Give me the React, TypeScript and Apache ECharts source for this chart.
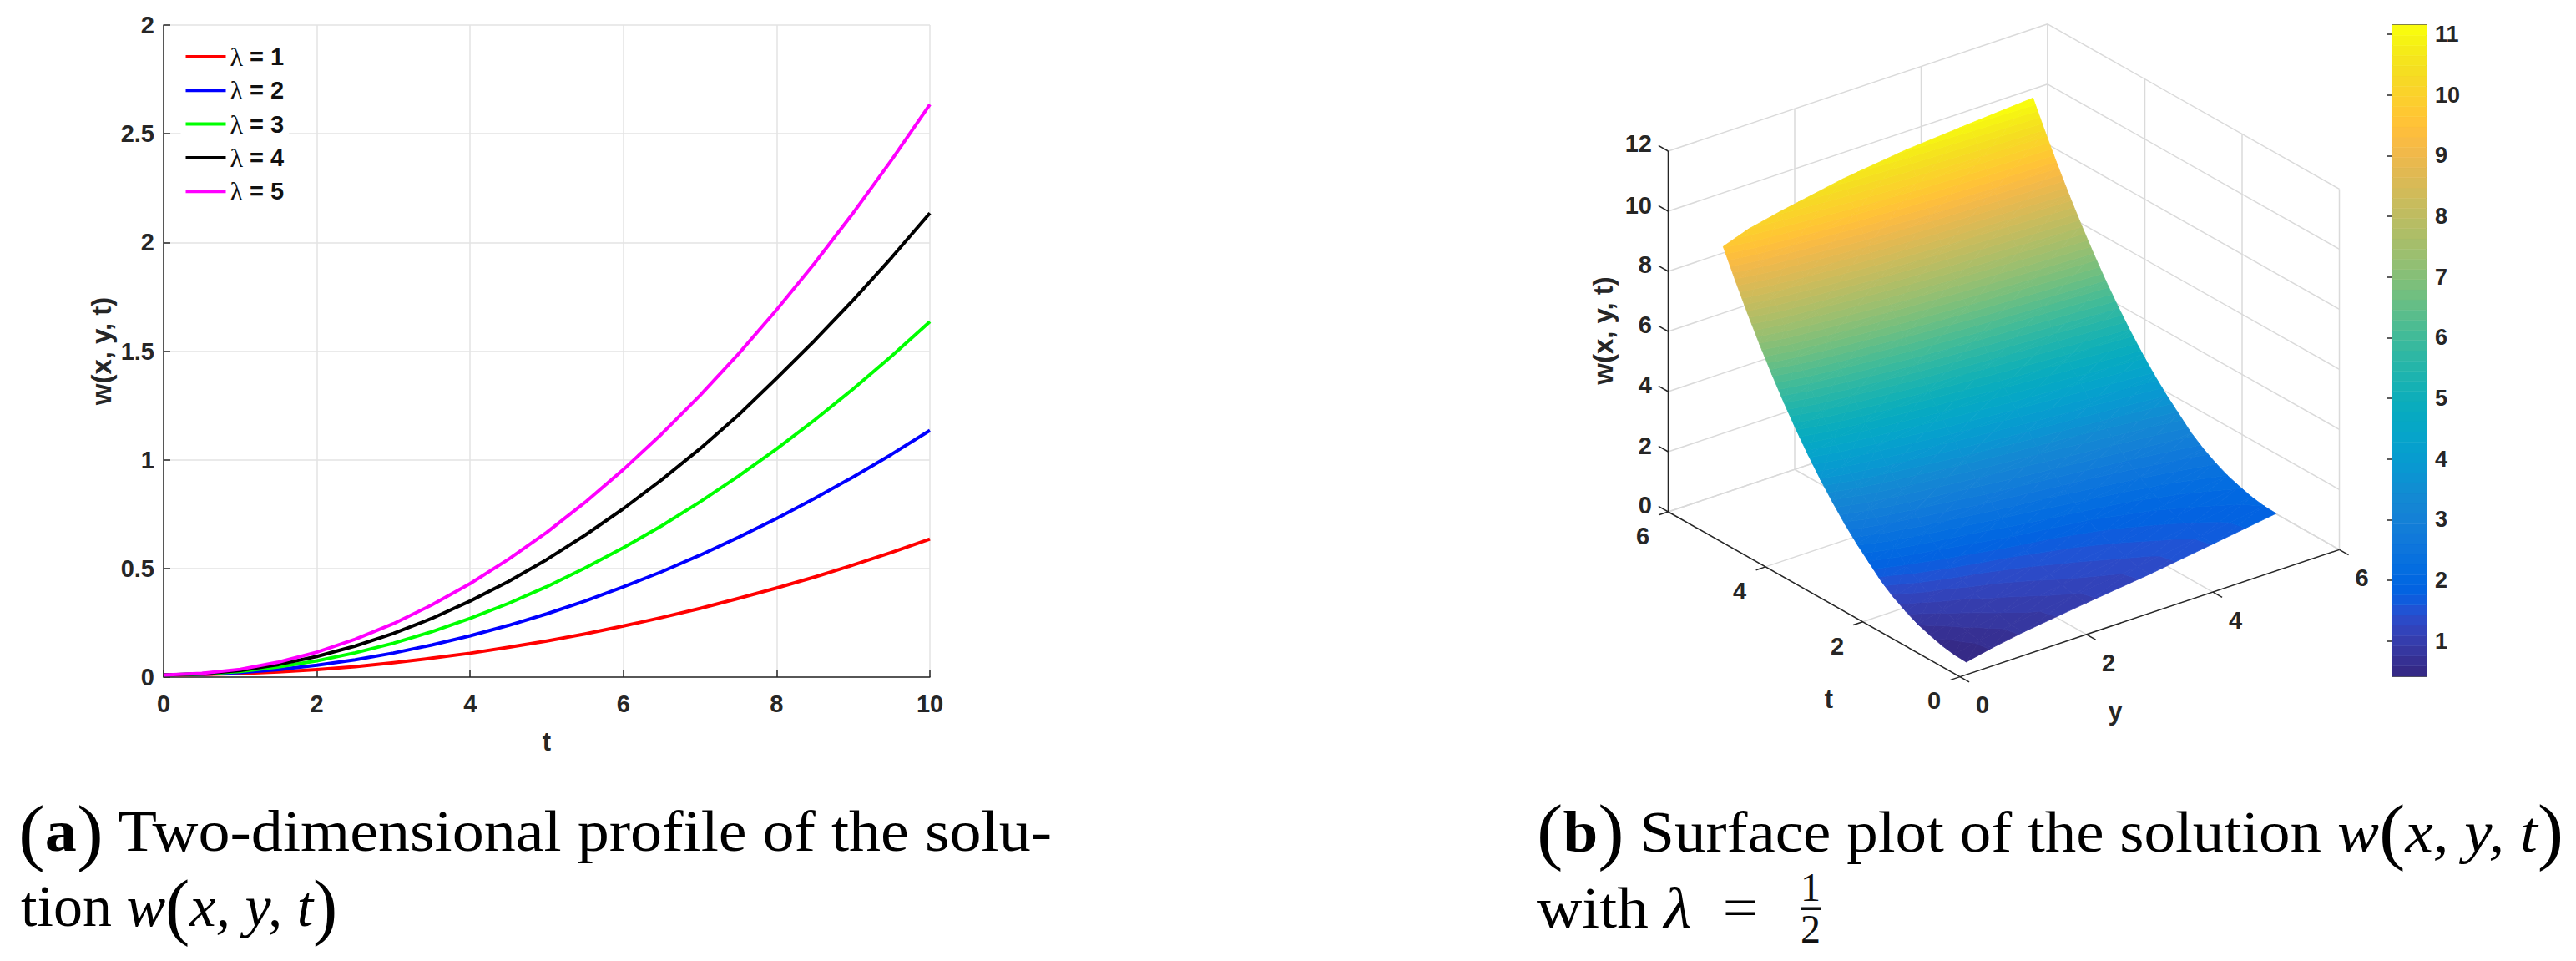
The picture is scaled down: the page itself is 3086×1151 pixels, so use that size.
import React, { useEffect, useRef } from "react";
import * as echarts from "echarts";

const tValues = [0, 0.5, 1, 1.5, 2, 2.5, 3, 3.5, 4, 4.5, 5, 5.5, 6, 6.5, 7, 7.5, 8, 8.5, 9, 9.5, 10];
const lambda1 = [0.01, 0.012, 0.016, 0.024, 0.035, 0.048, 0.066, 0.087, 0.11, 0.137, 0.166, 0.199, 0.235, 0.274, 0.316, 0.362, 0.41, 0.461, 0.516, 0.574, 0.635];
const lambda2 = [0.01, 0.013, 0.021, 0.035, 0.055, 0.08, 0.111, 0.148, 0.19, 0.238, 0.291, 0.35, 0.415, 0.485, 0.561, 0.643, 0.73, 0.823, 0.921, 1.025, 1.135];
const lambda3 = [0.01, 0.014, 0.026, 0.047, 0.075, 0.112, 0.156, 0.209, 0.27, 0.339, 0.416, 0.502, 0.595, 0.696, 0.806, 0.924, 1.05, 1.184, 1.326, 1.477, 1.635];
const lambda4 = [0.01, 0.015, 0.031, 0.058, 0.095, 0.143, 0.201, 0.27, 0.35, 0.44, 0.541, 0.653, 0.775, 0.908, 1.051, 1.205, 1.375, 1.55, 1.735, 1.93, 2.135];
const lambda5 = [0.01, 0.017, 0.036, 0.069, 0.115, 0.174, 0.246, 0.332, 0.43, 0.542, 0.666, 0.804, 0.955, 1.119, 1.296, 1.486, 1.69, 1.906, 2.136, 2.379, 2.635];
const lineNames = ["λ = 1", "λ = 2", "λ = 3", "λ = 4", "λ = 5"];
const lineColors = ["#ff0000", "#0000ff", "#00ff00", "#000000", "#ff00ff"];
const lineValues = [lambda1, lambda2, lambda3, lambda4, lambda5];
const leftYTickLabels = ["0", "0.5", "1", "1.5", "2", "2.5", "2"];

const surfaceY = [0.1, 0.5, 1, 2, 3, 4, 5];
const surfaceT = [0, 0.25, 0.5, 0.75, 1, 1.25, 1.5, 1.75, 2, 2.25, 2.5, 2.75, 3, 3.25, 3.5, 3.75, 4, 4.25, 4.5, 4.75, 5];
const surfaceW = [
  [0.42, 0.6, 0.78, 1.05, 1.3, 1.6, 1.91],
  [0.44, 0.62, 0.8, 1.07, 1.32, 1.62, 1.93],
  [0.51, 0.71, 0.9, 1.2, 1.45, 1.72, 2.0],
  [0.63, 0.83, 1.02, 1.32, 1.57, 1.84, 2.12],
  [0.77, 0.97, 1.16, 1.46, 1.71, 1.98, 2.26],
  [0.97, 1.17, 1.36, 1.66, 1.91, 2.18, 2.46],
  [1.21, 1.44, 1.64, 1.96, 2.21, 2.45, 2.7],
  [1.51, 1.74, 1.94, 2.26, 2.51, 2.75, 3.0],
  [1.9, 2.13, 2.33, 2.65, 2.9, 3.14, 3.39],
  [2.29, 2.52, 2.72, 3.04, 3.29, 3.53, 3.78],
  [2.73, 2.98, 3.19, 3.53, 3.79, 4.01, 4.22],
  [3.22, 3.47, 3.68, 4.02, 4.28, 4.5, 4.71],
  [3.75, 4.0, 4.21, 4.55, 4.81, 5.03, 5.24],
  [4.33, 4.58, 4.79, 5.13, 5.39, 5.61, 5.82],
  [4.95, 5.23, 5.45, 5.81, 6.07, 6.26, 6.44],
  [5.62, 5.9, 6.12, 6.48, 6.74, 6.93, 7.11],
  [6.34, 6.62, 6.84, 7.2, 7.46, 7.65, 7.83],
  [7.1, 7.38, 7.6, 7.96, 8.22, 8.41, 8.59],
  [7.91, 8.21, 8.44, 8.83, 9.09, 9.25, 9.4],
  [8.77, 9.07, 9.3, 9.69, 9.95, 10.11, 10.26],
  [9.67, 9.97, 10.2, 10.59, 10.85, 11.01, 11.16],
];
const zTicks = [0, 2, 4, 6, 8, 10, 12];
const floorTicks = [0, 2, 4, 6];
const colorbarTicks = [1, 2, 3, 4, 5, 6, 7, 8, 9, 10, 11];
const colorMin = 0.42;
const colorMax = 11.15;

const parula = [
  [0.2081, 0.1663, 0.5292], [0.2116, 0.1898, 0.5777], [0.2123, 0.2138, 0.627], [0.2081, 0.2386, 0.6771],
  [0.1959, 0.2645, 0.7279], [0.1707, 0.2919, 0.7792], [0.1253, 0.3242, 0.8303], [0.0591, 0.3598, 0.8683],
  [0.0117, 0.3875, 0.882], [0.006, 0.4086, 0.8828], [0.0165, 0.4266, 0.8786], [0.0329, 0.443, 0.872],
  [0.0498, 0.4586, 0.8641], [0.0629, 0.4737, 0.8554], [0.0723, 0.4887, 0.8467], [0.0779, 0.504, 0.8384],
  [0.0793, 0.52, 0.8312], [0.0749, 0.5375, 0.8263], [0.0641, 0.557, 0.824], [0.0488, 0.5772, 0.8228],
  [0.0343, 0.5966, 0.8199], [0.0265, 0.6137, 0.8135], [0.0239, 0.6287, 0.8038], [0.0231, 0.6418, 0.7913],
  [0.0228, 0.6535, 0.7768], [0.0267, 0.6642, 0.7607], [0.0384, 0.6743, 0.7436], [0.059, 0.6838, 0.7254],
  [0.0843, 0.6928, 0.7062], [0.1133, 0.7015, 0.6859], [0.1453, 0.7098, 0.6646], [0.1801, 0.7177, 0.6424],
  [0.2178, 0.725, 0.6193], [0.2586, 0.7317, 0.5954], [0.3022, 0.7376, 0.5712], [0.3482, 0.7424, 0.5473],
  [0.3953, 0.7459, 0.5244], [0.442, 0.7481, 0.5033], [0.4871, 0.7491, 0.484], [0.53, 0.7491, 0.4661],
  [0.5709, 0.7485, 0.4494], [0.6099, 0.7473, 0.4337], [0.6473, 0.7456, 0.4188], [0.6834, 0.7435, 0.4044],
  [0.7184, 0.7411, 0.3905], [0.7525, 0.7384, 0.3768], [0.7858, 0.7356, 0.3633], [0.8185, 0.7327, 0.3498],
  [0.8507, 0.7299, 0.336], [0.8824, 0.7274, 0.3217], [0.9139, 0.7258, 0.3063], [0.945, 0.7261, 0.2886],
  [0.9739, 0.7314, 0.2666], [0.9938, 0.7455, 0.2403], [0.999, 0.7653, 0.2164], [0.9955, 0.7861, 0.1967],
  [0.988, 0.8066, 0.1794], [0.9789, 0.8271, 0.1633], [0.9697, 0.8481, 0.1475], [0.9626, 0.8705, 0.1309],
  [0.9589, 0.8949, 0.1132], [0.9598, 0.9218, 0.0948], [0.9661, 0.9514, 0.0755], [0.9763, 0.9831, 0.0538],
].map(([r, g, b]) => `rgb(${Math.round(r * 255)},${Math.round(g * 255)},${Math.round(b * 255)})`);

const INK = "#262626";
const GRIDC = "#e3e3e3";
const BOXGRID = "#dadada";
const SANS = "'Liberation Sans', Arial, sans-serif";
const SERIF = "'Liberation Serif', serif";

// oblique view of the MATLAB box: (y, t, z) -> page position
const project = (y: number, t: number, z: number): [number, number] => [
  2348 + (y * 454.5) / 6 - (t * 349.5) / 6,
  810.6 - (y * 152.2) / 6 - (t * 197.6) / 6 - z * 36,
];

type V = { p: [number, number]; z: number };
const lerp = (a: V, b: V, lev: number): V => {
  const k = (lev - a.z) / (b.z - a.z);
  return { p: [a.p[0] + (b.p[0] - a.p[0]) * k, a.p[1] + (b.p[1] - a.p[1]) * k], z: lev };
};
const clip = (poly: V[], lev: number, above: boolean): V[] => {
  const out: V[] = [];
  const inside = (v: V) => (above ? v.z >= lev : v.z <= lev);
  for (let i = 0; i < poly.length; i++) {
    const a = poly[i];
    const b = poly[(i + 1) % poly.length];
    if (inside(a)) out.push(a);
    if (inside(a) !== inside(b)) out.push(lerp(a, b, lev));
  }
  return out;
};

function bandsOf(tri: V[], api: any) {
  const n = parula.length;
  const step = (colorMax - colorMin) / n;
  const zs = tri.map((v) => v.z);
  const i0 = Math.max(0, Math.floor((Math.min(...zs) - colorMin) / step));
  const i1 = Math.min(n - 1, Math.floor((Math.max(...zs) - colorMin) / step));
  const kids: any[] = [];
  for (let i = i0; i <= i1; i++) {
    let poly = clip(tri, i === 0 ? -1 : colorMin + i * step, true);
    if (poly.length) poly = clip(poly, i === n - 1 ? 99 : colorMin + (i + 1) * step, false);
    if (poly.length < 3) continue;
    kids.push({
      type: "polygon",
      shape: { points: poly.map((v) => api.coord(v.p)) },
      style: { fill: parula[i], stroke: parula[i], lineWidth: 0.8 },
    });
  }
  return kids;
}

const cells: number[][] = [];
for (let r = 0; r < surfaceT.length - 1; r++) for (let c = 0; c < surfaceY.length - 1; c++) cells.push([r, c]);

// frame segments in box coordinates
type Seg = { a: number[]; b: number[]; color: string; w: number };
const segs: Seg[] = [];
const gray = (a: number[], b: number[]) => segs.push({ a, b, color: BOXGRID, w: 1.5 });
const dark = (a: number[], b: number[]) => segs.push({ a, b, color: INK, w: 1.5 });
for (const v of floorTicks) {
  gray([v, 0, 0], [v, 6, 0]);
  gray([0, v, 0], [6, v, 0]);
  gray([v, 6, 0], [v, 6, 12]);
  gray([6, v, 0], [6, v, 12]);
}
for (const z of zTicks) {
  gray([0, 6, z], [6, 6, z]);
  gray([6, 0, z], [6, 6, z]);
}
dark([0, 6, 0], [0, 6, 12]);
dark([0, 0, 0], [0, 6, 0]);
dark([0, 0, 0], [6, 0, 0]);
for (const z of zTicks) dark([0, 6, z], [0, 6.2, z]);
for (const v of floorTicks) {
  dark([0, v, 0], [-0.15, v, 0]);
  dark([v, 0, 0], [v, -0.19, 0]);
}

type Lab = { text: string; x: number; y: number; align?: string; size?: number; rot?: number };
const boxLabels: Lab[] = [
  { text: "12", x: 1979, y: 172, align: "right" },
  { text: "10", x: 1979, y: 245.5, align: "right" },
  { text: "8", x: 1979, y: 317, align: "right" },
  { text: "6", x: 1979, y: 389, align: "right" },
  { text: "4", x: 1979, y: 461, align: "right" },
  { text: "2", x: 1979, y: 534, align: "right" },
  { text: "0", x: 1979, y: 604.5, align: "right" },
  { text: "0", x: 2317, y: 839 },
  { text: "2", x: 2201, y: 774 },
  { text: "4", x: 2084, y: 708 },
  { text: "6", x: 1968, y: 642 },
  { text: "0", x: 2375, y: 844 },
  { text: "2", x: 2526, y: 794 },
  { text: "4", x: 2678, y: 743 },
  { text: "6", x: 2829.5, y: 692 },
  { text: "t", x: 2191, y: 837, size: 31 },
  { text: "y", x: 2534, y: 851, size: 31 },
  { text: "w(x, y, t)", x: 1920.6, y: 396, size: 33, rot: Math.PI / 2 },
];

const captionA1 = "{p|(}{b|a}{p|)}{r| Two-dimensional profile of the solu-}";
const captionA2 = "{r|tion }{i|w}{p|(}{i|x, y, t}{p|)}";
const captionB1 = "{p|(}{b|b}{p|)}{r| Surface plot of the solution }{i|w}{p|(}{i|x, y, t}{p|)}";
const captionB2 = "{r|with }{i|λ}{r|  =}";

const capRich = {
  r: { fontFamily: SERIF, fontSize: 70, color: "#111" },
  b: { fontFamily: SERIF, fontSize: 70, fontWeight: "bold", color: "#111" },
  i: { fontFamily: SERIF, fontSize: 70, fontStyle: "italic", color: "#111" },
  p: { fontFamily: SERIF, fontSize: 88, color: "#111" },
};

export default function App() {
  const ref = useRef<HTMLDivElement>(null);
  useEffect(() => {
    document.body.style.margin = "0";
    const chart = echarts.init(ref.current!, undefined, { renderer: "svg" });
    const capText = (text: string, x: number, y: number, scaleX: number) => ({
      type: "text",
      x,
      y,
      scaleX,
      style: { text, rich: capRich, verticalAlign: "middle", align: "left" },
    });
    chart.setOption({
      animation: false,
      backgroundColor: "#fff",
      grid: [
        { left: 196, top: 30, width: 918, height: 781 },
        { left: 0, top: 0, width: 3086, height: 1151, show: false },
        { left: 2866, top: 30, width: 41, height: 780, show: true, borderColor: INK, borderWidth: 1.5, backgroundColor: "transparent" },
      ],
      xAxis: [
        {
          gridIndex: 0, type: "value", min: 0, max: 10, interval: 2,
          name: "t", nameLocation: "middle", nameGap: 62,
          nameTextStyle: { fontFamily: SANS, fontWeight: "bold", fontSize: 31, color: INK },
          axisLine: { onZero: false, lineStyle: { color: INK, width: 1.5 } },
          axisTick: { inside: true, length: 8, lineStyle: { color: INK, width: 1.5 } },
          axisLabel: { fontFamily: SANS, fontWeight: "bold", fontSize: 29, color: INK, margin: 17, showMinLabel: true, showMaxLabel: true },
          splitLine: { show: true, lineStyle: { color: GRIDC, width: 1.5 } },
        },
        { gridIndex: 1, type: "value", min: 0, max: 3086, show: false },
        { gridIndex: 2, type: "value", min: 0, max: 1, show: false },
      ],
      yAxis: [
        {
          gridIndex: 0, type: "value", min: 0, max: 3, interval: 0.5,
          name: "w(x, y, t)", nameLocation: "middle", nameGap: 58, nameRotate: 90,
          nameTextStyle: { fontFamily: SANS, fontWeight: "bold", fontSize: 33, color: INK },
          axisLine: { show: true, onZero: false, lineStyle: { color: INK, width: 1.5 } },
          axisTick: { show: true, inside: true, length: 8, lineStyle: { color: INK, width: 1.5 } },
          axisLabel: {
            fontFamily: SANS, fontWeight: "bold", fontSize: 29, color: INK, margin: 11, showMinLabel: true, showMaxLabel: true,
            formatter: (v: number) => leftYTickLabels[Math.round(v * 2)],
          },
          splitLine: { show: true, lineStyle: { color: GRIDC, width: 1.5 } },
        },
        { gridIndex: 1, type: "value", min: 0, max: 1151, inverse: true, show: false },
        {
          gridIndex: 2, type: "value", position: "right", min: colorMin, max: colorMax,
          axisLine: { show: false },
          axisTick: { show: true, inside: true, length: 6, customValues: colorbarTicks, lineStyle: { color: INK, width: 1.5 } },
          axisLabel: { fontFamily: SANS, fontWeight: "bold", fontSize: 27, color: INK, margin: 10, customValues: colorbarTicks },
          splitLine: { show: false },
        },
      ],
      legend: {
        data: lineNames,
        orient: "vertical",
        left: 216.5,
        top: 46,
        padding: 6,
        itemWidth: 48,
        itemHeight: 4,
        itemGap: 8.3,
        icon: "rect",
        backgroundColor: "#fff",
        formatter: (name: string) => `{l|λ}{b|${name.slice(1)}}`,
        textStyle: {
          color: "#111",
          rich: {
            l: { fontFamily: SERIF, fontSize: 32, lineHeight: 32, color: "#111" },
            b: { fontFamily: SANS, fontSize: 29, fontWeight: "bold", lineHeight: 32, color: "#111" },
          },
        },
      },
      series: [
        ...lineNames.map((name, i) => ({
          type: "line",
          name,
          xAxisIndex: 0,
          yAxisIndex: 0,
          smooth: false,
          showSymbol: false,
          itemStyle: { color: lineColors[i] },
          lineStyle: { color: lineColors[i], width: 4, join: "round" },
          data: tValues.map((t, k) => [t, lineValues[i][k]]),
        })),
        {
          type: "custom",
          name: "frame",
          xAxisIndex: 1,
          yAxisIndex: 1,
          clip: false,
          silent: true,
          data: segs.map((_, i) => [0, i]),
          renderItem: (params: any, api: any) => {
            const s = segs[params.dataIndex];
            const p0 = api.coord(project(s.a[0], s.a[1], s.a[2]));
            const p1 = api.coord(project(s.b[0], s.b[1], s.b[2]));
            return {
              type: "line",
              shape: { x1: p0[0], y1: p0[1], x2: p1[0], y2: p1[1] },
              style: { stroke: s.color, lineWidth: s.w },
            };
          },
        },
        {
          type: "custom",
          name: "surface",
          xAxisIndex: 1,
          yAxisIndex: 1,
          clip: false,
          silent: true,
          data: cells,
          renderItem: (params: any, api: any) => {
            const [r, c] = cells[params.dataIndex];
            const vert = (rr: number, cc: number): V => ({
              p: project(surfaceY[cc], surfaceT[rr], surfaceW[rr][cc]),
              z: surfaceW[rr][cc],
            });
            const a = vert(r, c), b = vert(r, c + 1), d = vert(r + 1, c + 1), e = vert(r + 1, c);
            return { type: "group", children: [...bandsOf([a, b, d], api), ...bandsOf([a, d, e], api)] };
          },
        },
        {
          type: "custom",
          name: "boxLabels",
          xAxisIndex: 1,
          yAxisIndex: 1,
          clip: false,
          silent: true,
          data: boxLabels.map((l) => [l.x, l.y]),
          renderItem: (params: any, api: any) => {
            const l = boxLabels[params.dataIndex];
            const p = api.coord([l.x, l.y]);
            return {
              type: "text",
              x: p[0],
              y: p[1],
              rotation: l.rot || 0,
              style: {
                text: l.text,
                fontFamily: SANS,
                fontWeight: "bold",
                fontSize: l.size || 29,
                fill: INK,
                align: l.align || "center",
                verticalAlign: "middle",
              },
            };
          },
        },
        {
          type: "custom",
          name: "colorbar",
          xAxisIndex: 2,
          yAxisIndex: 2,
          clip: false,
          silent: true,
          z: 1,
          data: parula.map((_, i) => [0, i]),
          renderItem: (params: any, api: any) => {
            const i = params.dataIndex;
            const step = (colorMax - colorMin) / parula.length;
            const p0 = api.coord([0, colorMin + (i + 1) * step]);
            const p1 = api.coord([1, colorMin + i * step]);
            return {
              type: "rect",
              shape: { x: p0[0], y: p0[1], width: p1[0] - p0[0], height: p1[1] - p0[1] },
              style: { fill: parula[i], stroke: parula[i], lineWidth: 0.5 },
            };
          },
        },
      ],
      graphic: [
        capText(captionA1, 22, 996, 1.087),
        capText(captionA2, 25, 1085, 1.0),
        capText(captionB1, 1841, 996, 1.072),
        capText(captionB2, 1841, 1087, 1.075),
        { type: "text", x: 2169, y: 1062, style: { text: "1", fontFamily: SERIF, fontSize: 48, fill: "#111", align: "center", verticalAlign: "middle" } },
        { type: "rect", shape: { x: 2157, y: 1086.5, width: 25, height: 3.5 }, style: { fill: "#111" } },
        { type: "text", x: 2169, y: 1112, style: { text: "2", fontFamily: SERIF, fontSize: 48, fill: "#111", align: "center", verticalAlign: "middle" } },
      ],
    });
    return () => chart.dispose();
  }, []);
  return <div ref={ref} style={{ position: "absolute", left: 0, top: 0, width: 3086, height: 1151 }} />;
}
